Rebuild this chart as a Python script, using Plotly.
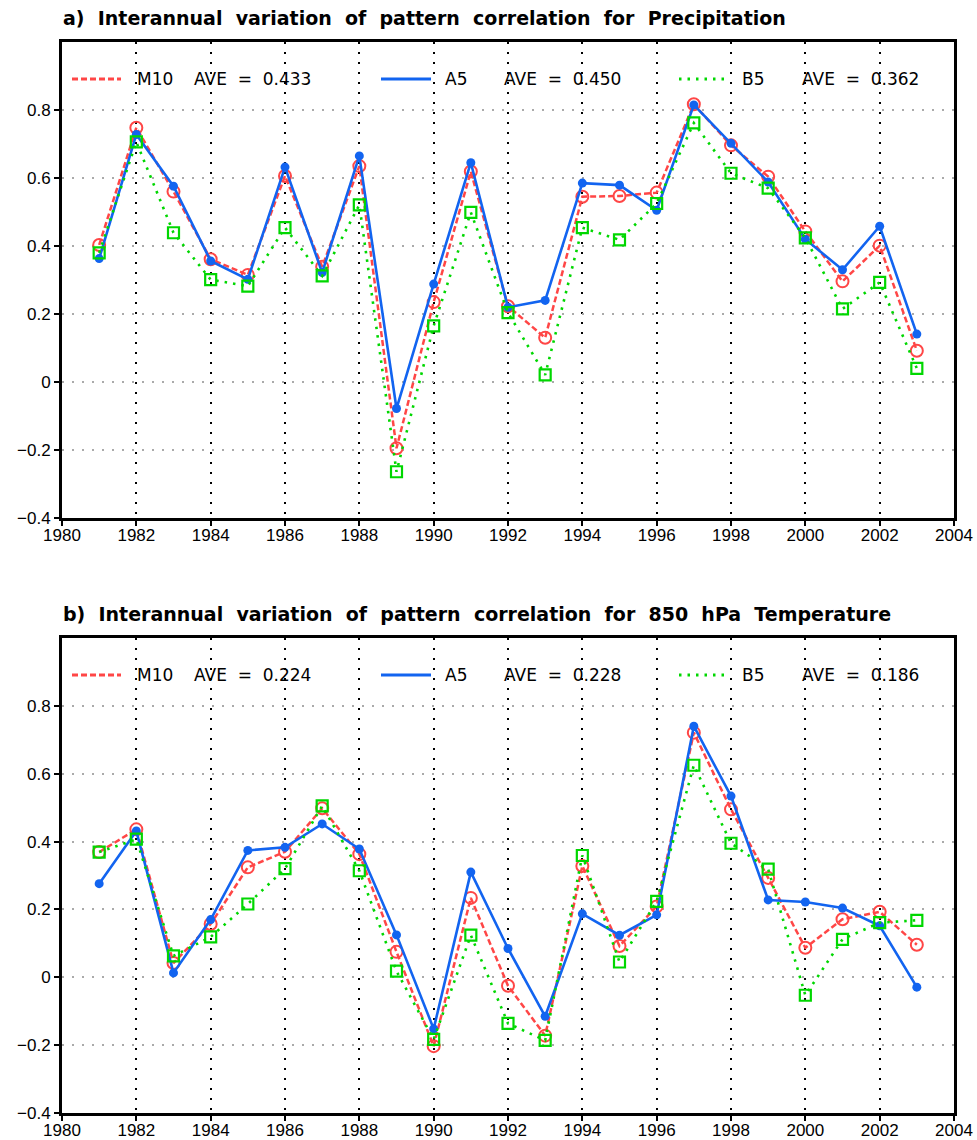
import plotly.graph_objects as go

# ---- data -------------------------------------------------------------
years = list(range(1981, 2004))

# a) Precipitation
pr_m10 = [0.403, 0.748, 0.560, 0.361, 0.315, 0.606, 0.339, 0.635, -0.195, 0.235, 0.619, 0.223,
          0.130, 0.545, 0.547, 0.557, 0.817, 0.696, 0.604, 0.443, 0.296, 0.401, 0.092]
pr_a5 = [0.363, 0.728, 0.576, 0.356, 0.302, 0.632, 0.322, 0.665, -0.078, 0.288, 0.645, 0.220,
         0.240, 0.585, 0.579, 0.505, 0.815, 0.702, 0.588, 0.420, 0.330, 0.458, 0.141]
pr_b5 = [0.380, 0.706, 0.439, 0.301, 0.282, 0.454, 0.312, 0.521, -0.264, 0.165, 0.499, 0.204,
         0.021, 0.454, 0.418, 0.525, 0.762, 0.614, 0.570, 0.424, 0.215, 0.293, 0.040]
pr_ave = ["0.433", "0.450", "0.362"]

# b) 850 hPa Temperature
t_m10 = [0.369, 0.436, 0.042, 0.157, 0.324, 0.370, 0.498, 0.363, 0.075, -0.203, 0.234, -0.025,
         -0.172, 0.328, 0.092, 0.209, 0.721, 0.495, 0.293, 0.087, 0.171, 0.193, 0.096]
t_a5 = [0.276, 0.431, 0.013, 0.170, 0.374, 0.383, 0.452, 0.378, 0.125, -0.152, 0.310, 0.085,
        -0.115, 0.187, 0.124, 0.184, 0.740, 0.534, 0.228, 0.222, 0.204, 0.152, -0.029]
t_b5 = [0.369, 0.407, 0.063, 0.119, 0.216, 0.320, 0.505, 0.314, 0.018, -0.183, 0.124, -0.136,
        -0.186, 0.359, 0.045, 0.224, 0.625, 0.395, 0.319, -0.053, 0.112, 0.161, 0.168]
t_ave = ["0.224", "0.228", "0.186"]

series_names = ["M10", "A5", "B5"]
titles = ["a) Interannual variation of pattern correlation for Precipitation",
          "b) Interannual variation of pattern correlation for 850 hPa Temperature"]

y_tickvals = [-0.4, -0.2, 0, 0.2, 0.4, 0.6, 0.8]
y_ticktext = ["\u22120.4", "\u22120.2", "0", "0.2", "0.4", "0.6", "0.8"]
x_tickvals = list(range(1980, 2005, 2))

# ---- styling ----------------------------------------------------------
W, H = 977, 1140
RED = "rgb(255,70,70)"
BLUE = "rgb(18,100,240)"
GREEN = "rgb(0,215,0)"
styles = [
    dict(line=dict(color=RED, width=2.5, dash="6px,3px"),
         marker=dict(symbol="circle-open", size=12, color=RED, line=dict(width=2, color=RED))),
    dict(line=dict(color=BLUE, width=2.6, dash="solid"),
         marker=dict(symbol="circle", size=9, color=BLUE)),
    dict(line=dict(color=GREEN, width=2.6, dash="2.5px,6px"),
         marker=dict(symbol="square-open", size=11, color=GREEN, line=dict(width=2.2, color=GREEN))),
]

# panel frames in pixels (left, right, top, bottom)
X0, X1 = 62, 954
panels = [(42, 518), (638, 1113)]

fig = go.Figure()
panel_data = [(pr_m10, pr_a5, pr_b5, pr_ave), (t_m10, t_a5, t_b5, t_ave)]


def spaced(s):
    # widen the gaps between words
    return s.replace(" ", "\u00a0\u00a0")


for i, ((top, bot), (m10, a5, b5, ave)) in enumerate(zip(panels, panel_data)):
    sfx = "" if i == 0 else str(i + 1)
    xa, ya = "x" + sfx, "y" + sfx
    for name, vals, st in zip(series_names, (m10, a5, b5), styles):
        fig.add_trace(go.Scatter(x=years, y=vals, mode="lines+markers", name=name,
                                 xaxis=xa, yaxis=ya, showlegend=False, cliponaxis=False, **st))

    axis_common = dict(showline=True, linecolor="black", linewidth=3, mirror=True,
                       ticks="outside", ticklen=5, tickwidth=1.5, tickcolor="black",
                       zeroline=False, automargin=False,
                       tickfont=dict(family="Liberation Sans", size=17, color="black"))
    fig.layout["xaxis" + sfx] = dict(
        domain=[X0 / W, X1 / W], range=[1980, 2004], anchor=ya,
        tickvals=x_tickvals, showgrid=True, gridcolor="black", gridwidth=1.6,
        griddash="2px,8px", ticklabelstandoff=-5, **axis_common)
    fig.layout["yaxis" + sfx] = dict(
        domain=[1 - bot / H, 1 - top / H], range=[-0.4, 1.0], anchor=xa,
        tickvals=y_tickvals, ticktext=y_ticktext, showgrid=True,
        gridcolor="rgb(170,170,170)", gridwidth=1.6, griddash="2px,8px", **axis_common)

    # panel title
    fig.add_annotation(xref="paper", yref="paper", x=61 / W, y=1 - (top - 24) / H,
                       xanchor="left", yanchor="middle", showarrow=False, text=spaced(titles[i]),
                       font=dict(family="DejaVu Sans", size=19, color="black", weight="bold"))

    # in-plot key
    ky = top + 37
    key = [(72, 121, 135, 192), (381, 431, 443, 502), (679, 727, 740, 800)]
    for (l0, l1, tx, ax_), name, st, av in zip(key, series_names, styles, ave):
        fig.add_shape(type="line", xref="paper", yref="paper",
                      x0=l0 / W, x1=l1 / W, y0=1 - ky / H, y1=1 - ky / H,
                      line=dict(color=st["line"]["color"], width=3, dash=st["line"]["dash"]))
        fig.add_annotation(xref="paper", yref="paper", x=tx / W, y=1 - ky / H,
                           xanchor="left", yanchor="middle", showarrow=False, text=name,
                           font=dict(family="DejaVu Sans", size=17, color="black"))
        fig.add_annotation(xref="paper", yref="paper", x=ax_ / W, y=1 - ky / H,
                           xanchor="left", yanchor="middle", showarrow=False,
                           text="AVE\u00a0 =\u00a0 " + av,
                           font=dict(family="DejaVu Sans", size=17, color="black"))

fig.update_layout(width=W, height=H, margin=dict(l=0, r=0, t=0, b=0),
                  paper_bgcolor="white", plot_bgcolor="white")

fig.write_html("out.html")
